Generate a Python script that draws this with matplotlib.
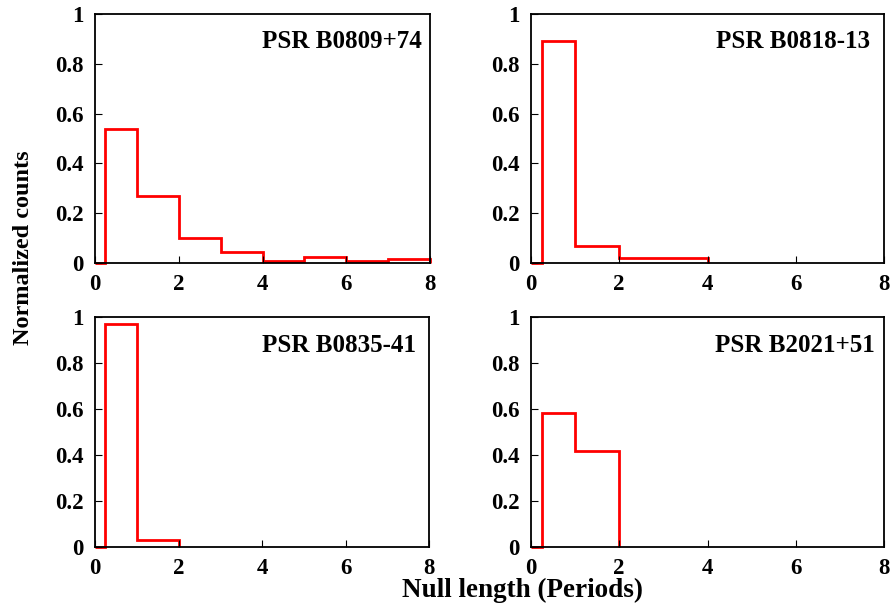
import numpy as np
import matplotlib.pyplot as plt

# null length histograms, normalized counts
names = ['PSR B0809+74', 'PSR B0818-13', 'PSR B0835-41', 'PSR B2021+51']
edges_0809 = [0, 0.25, 1, 2, 3, 4, 5, 6, 7, 8]
counts_0809 = [0, 0.537, 0.270, 0.099, 0.043, 0.008, 0.024, 0.008, 0.017]
edges_0818 = [0, 0.25, 1, 2, 3, 4]
counts_0818 = [0, 0.893, 0.070, 0.019, 0.019]
edges_0835 = [0, 0.25, 1, 2]
counts_0835 = [0, 0.971, 0.029]
edges_2021 = [0, 0.25, 1, 2]
counts_2021 = [0, 0.583, 0.416]

all_edges = [edges_0809, edges_0818, edges_0835, edges_2021]
all_counts = [counts_0809, counts_0818, counts_0835, counts_2021]

plt.rcParams['font.family'] = ['Liberation Serif', 'DejaVu Serif']
plt.rcParams['font.weight'] = 'bold'

W, H = 894, 603
fig = plt.figure(figsize=(W / 100, H / 100), dpi=100)

# panel boxes in pixels: left, top, right, bottom
boxes = [(95, 14, 430, 263), (531, 14, 884, 263),
         (95, 317, 429, 547), (531, 317, 884, 547)]
label_x = [0.975, 0.96, 0.96, 0.975]

for i, (l, t, r, b) in enumerate(boxes):
    ax = fig.add_axes([l / W, 1 - b / H, (r - l) / W, (b - t) / H])
    ax.stairs(all_counts[i], all_edges[i], baseline=0, color='red', lw=2, clip_on=False)
    ax.set_xlim(0, 8)
    ax.set_ylim(0, 1)
    ax.set_xticks([0, 2, 4, 6, 8])
    ax.set_yticks([0, 0.2, 0.4, 0.6, 0.8, 1])
    ax.set_yticklabels(['0', '0.2', '0.4', '0.6', '0.8', '1'])
    ax.tick_params(direction='in', length=5, labelsize=16.5, pad=8,
                   top=False, right=False)
    for lab in ax.get_xticklabels() + ax.get_yticklabels():
        lab.set_fontweight('bold')
    for sp in ax.spines.values():
        sp.set_linewidth(1.3)
    h = b - t
    ax.text(label_x[i], 1 - 28 / h, names[i], transform=ax.transAxes,
            ha='right', va='center', fontsize=18, fontweight='bold')

fig.text(0.026, 0.59, 'Normalized counts', rotation=90, ha='center', va='center',
         fontsize=17.5, fontweight='bold')
fig.text(0.584, 0.021, 'Null length (Periods)', ha='center', va='center',
         fontsize=19.5, fontweight='bold')

fig.savefig('out.png', dpi=100)
